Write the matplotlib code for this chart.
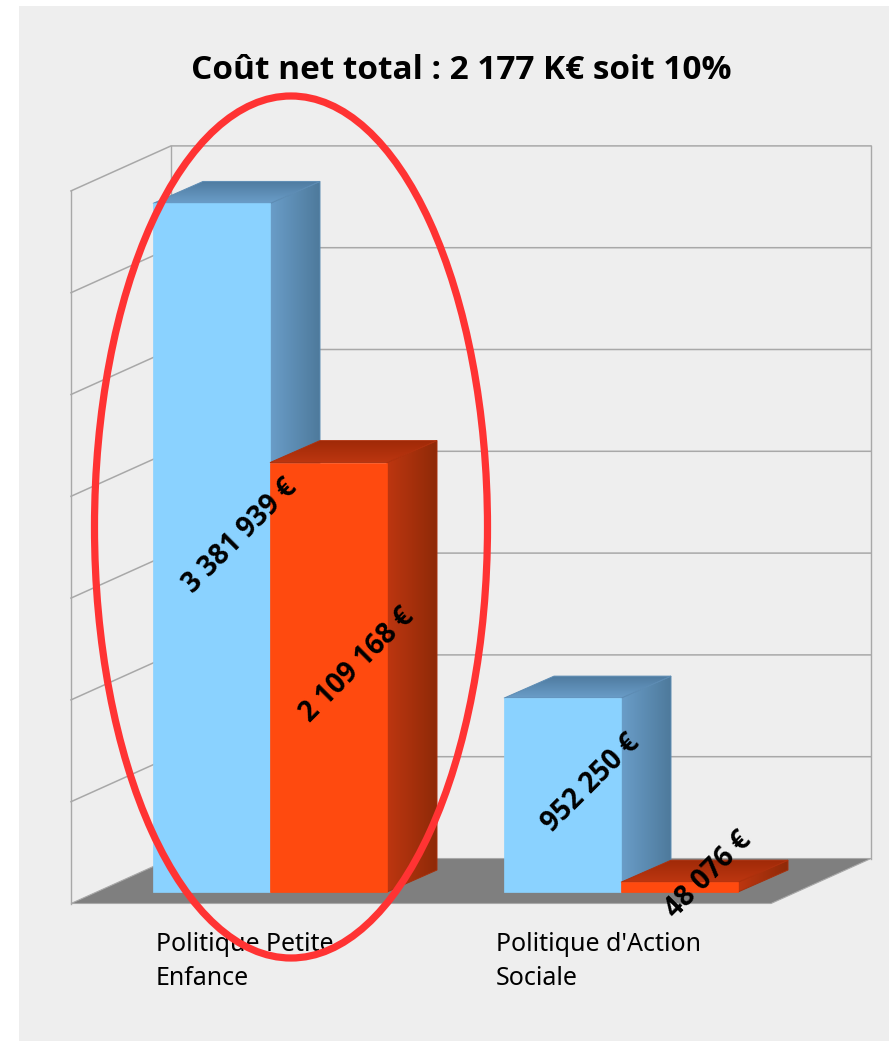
import numpy as np
import matplotlib
matplotlib.use("Agg")
import matplotlib.pyplot as plt
from matplotlib.patches import Polygon, Rectangle, Ellipse

title = "Coût net total : 2 177 K€ soit 10%"
categories = ["Politique Petite\nEnfance", "Politique d'Action\nSociale"]
series_blue = [3381939, 952250]
series_orange = [2109168, 48076]
value_labels_blue = ["3 381 939 €", "952 250 €"]
value_labels_orange = ["2 109 168 €", "48 076 €"]
gridlines = [500000, 1000000, 1500000, 2000000, 2500000, 3000000, 3500000]

W, H = 889, 1041
PX_PER_CAT = 351.0
PX_PER_EUR = 101.8 / 500000.0
X0_PX, Y0_PX = 153.0, 892.0
BAR_W = 117.0 / PX_PER_CAT
DX, DY = 50.0 / PX_PER_CAT, 22.0 / PX_PER_EUR   # bar depth
FX, FY = 1.0 / PX_PER_CAT, 1.0 / PX_PER_EUR     # one pixel in data units
FONT = "Noto Sans"
BOLD_FONT = "Open Sans"

fig = plt.figure(figsize=(W / 100, H / 100), dpi=100, facecolor="white")
ax = fig.add_axes([0, 0, 1, 1])
XLIM = (-X0_PX * FX, (W - X0_PX) * FX)
YLIM = (-(H - Y0_PX) * FY, Y0_PX * FY)
ax.axis("off")

ax.add_patch(Rectangle((-134 * FX, -149 * FY), 870 * FX, 1035 * FY, fc="#eeeeee", ec="none", zorder=0))

WX0, WX1 = -82 * FX, 618 * FX
FLOOR_FRONT, FLOOR_BACK = -11.5 * FY, 33.5 * FY
WD = 100 * FX
grid_c = "#a8a8a8"
ax.add_patch(Polygon([(WX0, FLOOR_FRONT), (WX0 + WD, FLOOR_BACK), (WX1 + WD, FLOOR_BACK), (WX1, FLOOR_FRONT)],
                     fc="#7f7f7f", ec="#a8a8a8", lw=0.8, zorder=1))
for v in gridlines:
    ax.plot([WX0, WX0 + WD, WX1 + WD], [FLOOR_FRONT + v, FLOOR_BACK + v, FLOOR_BACK + v],
            color=grid_c, lw=1.1, zorder=1, solid_joinstyle="miter")
top = gridlines[-1]
ax.plot([WX0, WX0], [FLOOR_FRONT, FLOOR_FRONT + top], color=grid_c, lw=1.0, zorder=1)
ax.plot([WX0 + WD, WX0 + WD], [FLOOR_BACK, FLOOR_BACK + top], color=grid_c, lw=1.0, zorder=1)
ax.plot([WX1 + WD, WX1 + WD], [FLOOR_BACK, FLOOR_BACK + top], color=grid_c, lw=1.0, zorder=1)


def gradient_face(corners, c0, c1, horizontal, z):
    xs, ys = zip(*corners)
    t = np.linspace(0, 1, 64)
    rgb0, rgb1 = np.array(matplotlib.colors.to_rgb(c0)), np.array(matplotlib.colors.to_rgb(c1))
    g = rgb0[None, :] * (1 - t)[:, None] + rgb1[None, :] * t[:, None]
    img = g[None, :, :] if horizontal else g[:, None, :]
    im = ax.imshow(img, extent=(min(xs), max(xs), min(ys), max(ys)), origin="lower",
                   aspect="auto", interpolation="bilinear", zorder=z)
    clip = Polygon(corners, transform=ax.transData, fc="none", ec="none")
    ax.add_patch(clip)
    im.set_clip_path(clip)
    ax.add_patch(Polygon(corners, fc="none", ec=(rgb0 + rgb1) / 2, lw=0.7, zorder=z))


def bar3d(x, v, front, side0, side1, top0, top1, z):
    r = x + BAR_W
    gradient_face([(r, 0), (r + DX, DY), (r + DX, v + DY), (r, v)], side0, side1, True, z)
    gradient_face([(x, v), (x + DX, v + DY), (r + DX, v + DY), (r, v)], top0, top1, False, z)
    ax.bar(x, v, width=BAR_W, align="edge", color=front, edgecolor=front, linewidth=0.5, zorder=z + 0.1)


for i, (b, o) in enumerate(zip(series_blue, series_orange)):
    bar3d(i, b, "#8ad2ff", "#6a9dc8", "#4e7a9c", "#6a9dc8", "#4f7ba0", 2 + i)
    bar3d(i + BAR_W, o, "#ff4a0f", "#bd3610", "#8f2a08", "#bd3610", "#a02a08", 2.5 + i)

for i, (b, o) in enumerate(zip(series_blue, series_orange)):
    for x, v, s in [(i, b, value_labels_blue[i]), (i + BAR_W, o, value_labels_orange[i])]:
        ax.text(x + BAR_W / 2 + 29 * FX, v / 2 + 12 * FY, s, rotation=45, rotation_mode="anchor",
                ha="center", va="center", fontsize=20, fontweight="bold", color="black", zorder=8,
                fontfamily=BOLD_FONT)

for i, c in enumerate(categories):
    ax.text(i + (3 - 11 * i) * FX, -40 * FY, c, ha="left", va="top", fontsize=18, color="black",
            linespacing=1.47, zorder=4, fontfamily=FONT)

ax.add_patch(Ellipse((138 * FX, 365 * FY), 393 * FX, 862 * FY, fc="none", ec="#ff3333", lw=5.2, zorder=7))

ax.text(0.5186, 1 - 71 / H, title, transform=ax.transAxes, ha="center", va="center",
        fontsize=24, fontweight="bold", color="black", fontfamily=BOLD_FONT)

ax.set_xlim(*XLIM)
ax.set_ylim(*YLIM)
fig.savefig("out.png", dpi=100, facecolor="white")
